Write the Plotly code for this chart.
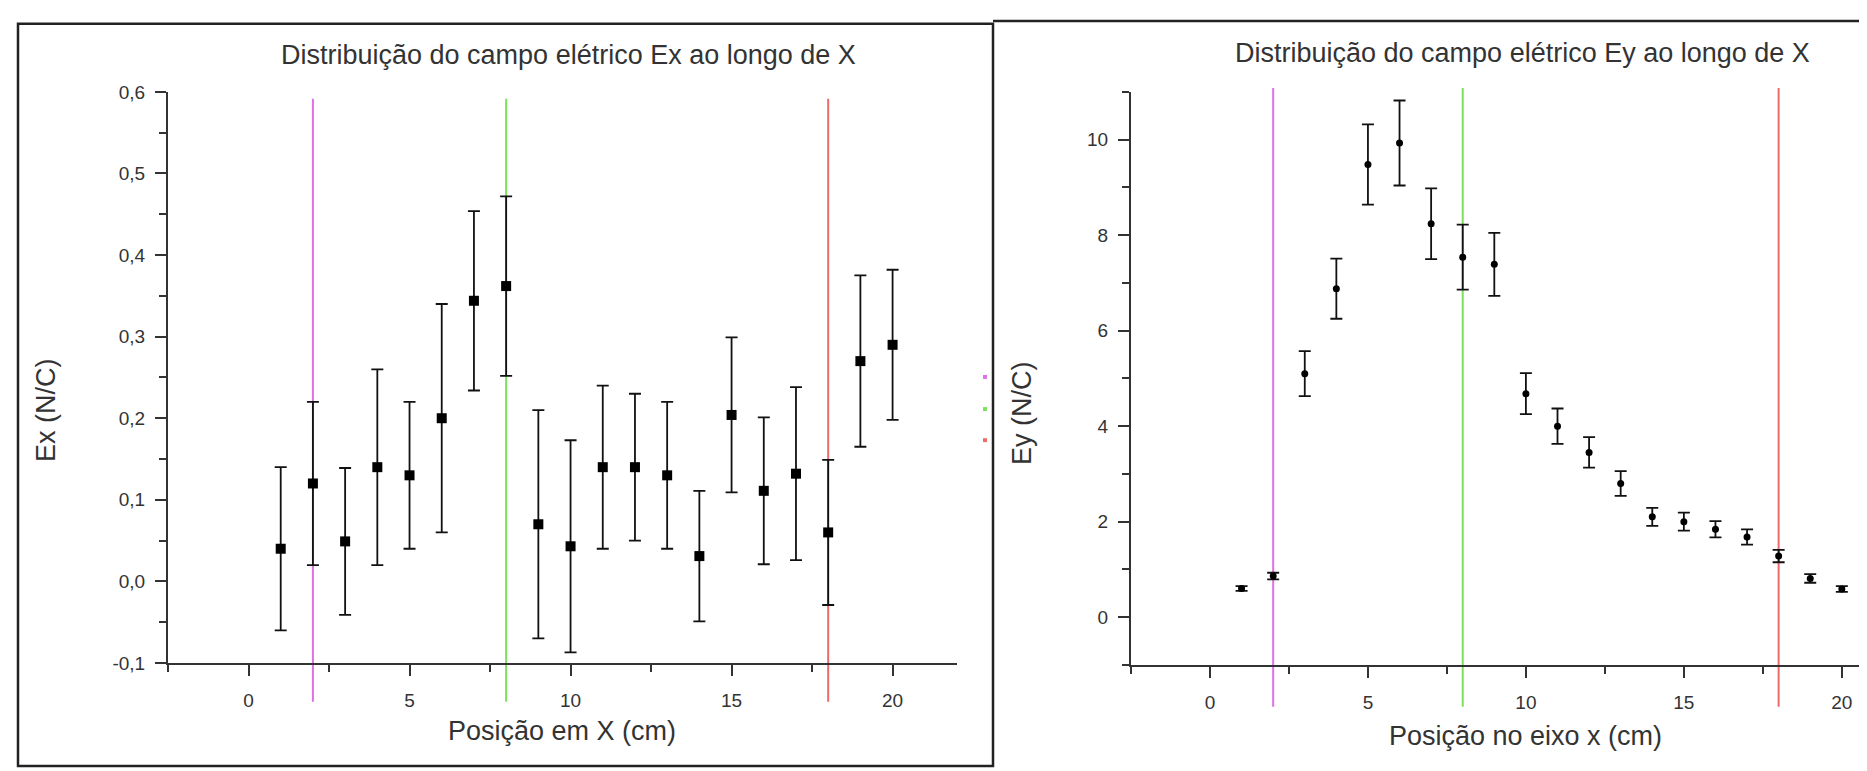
import plotly.graph_objects as go

W, H = 1867, 771

# ---------------- data ----------------
positions = [1, 2, 3, 4, 5, 6, 7, 8, 9, 10, 11, 12, 13, 14, 15, 16, 17, 18, 19, 20]
ex_values = [0.040, 0.120, 0.049, 0.140, 0.130, 0.200, 0.344, 0.362, 0.070, 0.043,
             0.140, 0.140, 0.130, 0.031, 0.204, 0.111, 0.132, 0.060, 0.270, 0.290]
ex_errors = [0.100, 0.100, 0.090, 0.120, 0.090, 0.140, 0.110, 0.110, 0.140, 0.130,
             0.100, 0.090, 0.090, 0.080, 0.095, 0.090, 0.106, 0.089, 0.105, 0.092]
ey_values = [0.60, 0.86, 5.10, 6.88, 9.48, 9.93, 8.24, 7.54, 7.39, 4.68,
             4.00, 3.45, 2.80, 2.10, 2.00, 1.84, 1.68, 1.28, 0.81, 0.59]
ey_errors = [0.05, 0.07, 0.47, 0.63, 0.84, 0.89, 0.74, 0.68, 0.66, 0.43,
             0.37, 0.32, 0.26, 0.19, 0.19, 0.17, 0.16, 0.13, 0.09, 0.06]

marker_lines_x = [2, 8, 18]
marker_line_colors = ["#E070E8", "#7CE05A", "#EC6A6A"]

x_tickvals = [0, 5, 10, 15, 20]
x_ticktext = ["0", "5", "10", "15", "20"]
x_minor = [-2.5, 2.5, 7.5, 12.5, 17.5]

ex_tickvals = [-0.1, 0.0, 0.1, 0.2, 0.3, 0.4, 0.5, 0.6]
ex_ticktext = ["-0,1", "0,0", "0,1", "0,2", "0,3", "0,4", "0,5", "0,6"]
ex_minor = [-0.05, 0.05, 0.15, 0.25, 0.35, 0.45, 0.55]

ey_tickvals = [0, 2, 4, 6, 8, 10]
ey_ticktext = ["0", "2", "4", "6", "8", "10"]
ey_minor = [-1, 1, 3, 5, 7, 9, 11]

title_left = "Distribuição do campo elétrico Ex ao longo de X"
title_right = "Distribuição do campo elétrico Ey ao longo de X"
xlabel_left = "Posição em X (cm)"
xlabel_right = "Posição no eixo x (cm)"
ylabel_left = "Ex (N/C)"
ylabel_right = "Ey (N/C)"

# ---------------- helpers ----------------
FONT = "Liberation Sans, Arial, sans-serif"
TXT = "#333333"
AX = "#333333"


def px(x):
    return x / W


def py(y):
    return 1 - y / H


fig = go.Figure()

fig.add_trace(go.Scatter(
    x=positions, y=ex_values, mode="markers",
    marker=dict(symbol="square", size=10, color="black"),
    error_y=dict(type="data", array=ex_errors, visible=True,
                 color="#111111", thickness=1.8, width=6),
    xaxis="x", yaxis="y", showlegend=False, cliponaxis=False,
))

fig.add_trace(go.Scatter(
    x=positions, y=ey_values, mode="markers",
    marker=dict(symbol="circle", size=7, color="black"),
    error_y=dict(type="data", array=ey_errors, visible=True,
                 color="#111111", thickness=1.8, width=6),
    xaxis="x2", yaxis="y2", showlegend=False, cliponaxis=False,
))

axis_common = dict(
    showline=True, linecolor=AX, linewidth=2,
    ticks="outside", ticklen=11, tickwidth=1.5, tickcolor=AX,
    showgrid=False, zeroline=False,
    tickfont=dict(family=FONT, size=19, color=TXT),
    tickmode="array",
)

fig.update_layout(
    width=W, height=H,
    margin=dict(l=0, r=0, t=0, b=0),
    paper_bgcolor="white", plot_bgcolor="white",
    font=dict(family=FONT, color=TXT),
    xaxis=dict(domain=[px(160), px(949)], range=[-2.5, 22], anchor="y",
               tickvals=x_tickvals, ticktext=x_ticktext, ticklabelstandoff=8,
               minor=dict(tickmode="array", tickvals=x_minor, ticks="outside",
                          ticklen=7, tickwidth=1.5, tickcolor=AX),
               **axis_common),
    yaxis=dict(domain=[py(663), py(76)], range=[-0.1, 0.6], anchor="x",
               tickvals=ex_tickvals, ticktext=ex_ticktext, ticklabelstandoff=6,
               minor=dict(tickmode="array", tickvals=ex_minor, ticks="outside",
                          ticklen=7, tickwidth=1.5, tickcolor=AX),
               **axis_common),
    xaxis2=dict(domain=[px(1123), 1.0], range=[-2.5, 21.05], anchor="y2",
                tickvals=x_tickvals, ticktext=x_ticktext, ticklabelstandoff=8,
                minor=dict(tickmode="array", tickvals=x_minor, ticks="outside",
                           ticklen=7, tickwidth=1.5, tickcolor=AX),
                **axis_common),
    yaxis2=dict(domain=[py(665), py(76)], range=[-1, 11], anchor="x2",
                tickvals=ey_tickvals, ticktext=ey_ticktext, ticklabelstandoff=6,
                minor=dict(tickmode="array", tickvals=ey_minor, ticks="outside",
                           ticklen=7, tickwidth=1.5, tickcolor=AX),
                **axis_common),
)

# vertical marker lines (x in data units, extended beyond the axes)
shapes = []
for xv, col in zip(marker_lines_x, marker_line_colors):
    shapes.append(dict(type="line", xref="x", yref="paper", x0=xv, x1=xv,
                       y0=py(703), y1=py(83), line=dict(color=col, width=2),
                       layer="below"))
    shapes.append(dict(type="line", xref="x2", yref="paper", x0=xv, x1=xv,
                       y0=py(708), y1=py(72), line=dict(color=col, width=2),
                       layer="below"))

# panel frames (screenshot borders)
shapes.append(dict(type="rect", xref="paper", yref="paper",
                   x0=px(10), x1=px(985), y0=py(769), y1=py(6),
                   line=dict(color="#222222", width=2.5)))
shapes.append(dict(type="line", xref="paper", yref="paper",
                   x0=px(985), x1=1.0, y0=py(3), y1=py(3),
                   line=dict(color="#222222", width=2.5)))

# clipped legend remnants at right edge of left panel
for col, yy in zip(marker_line_colors, [369, 402, 434]):
    shapes.append(dict(type="rect", xref="paper", yref="paper",
                       x0=px(975), x1=px(979), y0=py(yy + 2), y1=py(yy - 2),
                       line=dict(width=0), fillcolor=col))

fig.update_layout(shapes=shapes)

ann_font = dict(family=FONT, size=27, color=TXT)
annotations = [
    dict(text=title_left, x=px(560), y=py(38)),
    dict(text=title_right, x=px(1514), y=py(36)),
    dict(text=xlabel_left, x=px(554), y=py(733)),
    dict(text=xlabel_right, x=px(1517), y=py(738)),
    dict(text=ylabel_left, x=px(38), y=py(403), textangle=-90),
    dict(text=ylabel_right, x=px(1014), y=py(406), textangle=-90),
]
for a in annotations:
    a.update(xref="paper", yref="paper", xanchor="center", yanchor="middle",
             showarrow=False, font=ann_font)
fig.update_layout(annotations=annotations)

fig.write_html("out.html")
